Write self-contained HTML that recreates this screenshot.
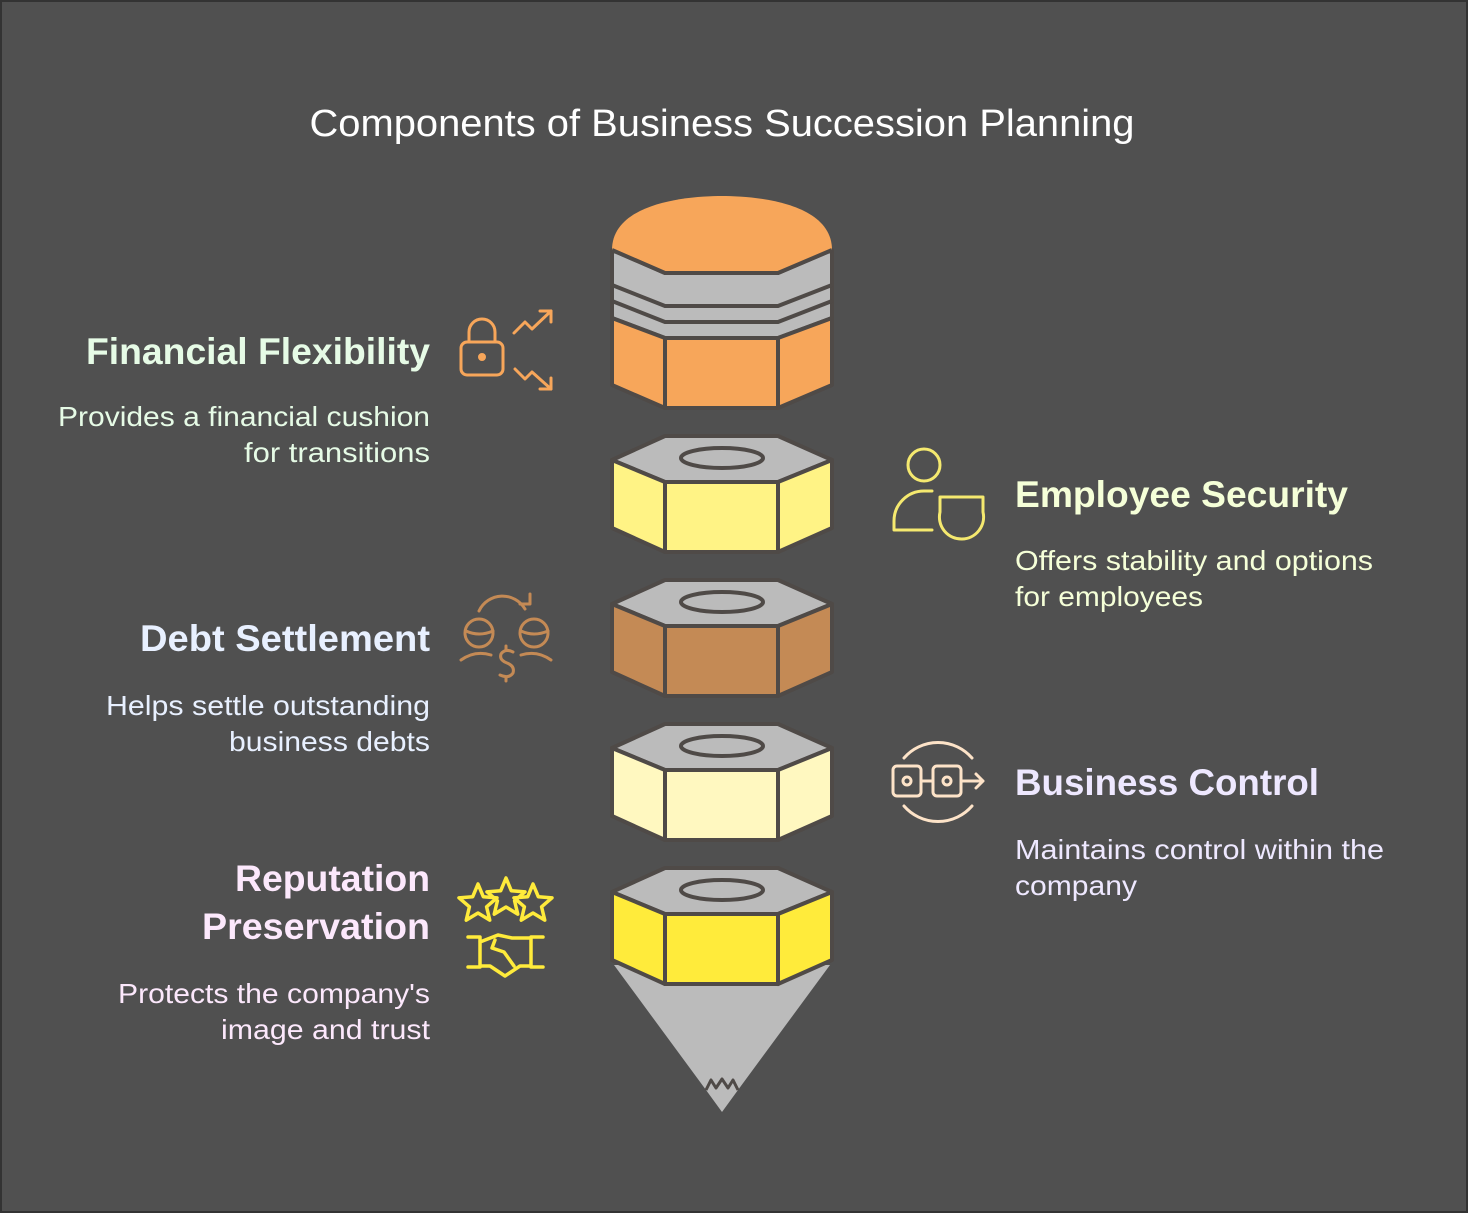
<!DOCTYPE html>
<html><head><meta charset="utf-8"><style>
html,body{margin:0;padding:0;background:#505050}
svg{display:block}
text{font-family:"Liberation Sans",sans-serif}
</style></head><body>
<svg width="1468" height="1213" viewBox="0 0 1468 1213" xmlns="http://www.w3.org/2000/svg">
<rect x="1" y="1" width="1466" height="1211" fill="#505050" stroke="#333" stroke-width="2"/>
<text x="722" y="136" text-anchor="middle" font-size="38" fill="#fff" textLength="825" lengthAdjust="spacingAndGlyphs">Components of Business Succession Planning</text>

<g stroke="#4f4a47" stroke-width="4" stroke-linejoin="round">
<polygon points="612,250 665,273 778,273 832,250 832,318 778,338 665,338 612,318" fill="#bbbbbb"/>
<path d="M612,250 C612,202 690,196 722,196 C754,196 832,202 832,250 L778,273 L665,273 Z" fill="#f7a65a" stroke="none"/>
<polyline points="612,250 665,273 778,273 832,250" fill="none"/>
<polyline points="612,285 665,306 778,306 832,285" fill="none"/>
<polyline points="612,301 665,322 778,322 832,301" fill="none"/>
<polygon points="612,318 665,338 665,408 612,385" fill="#f7a65a"/>
<polygon points="665,338 778,338 778,408 665,408" fill="#f7a65a"/>
<polygon points="778,338 832,318 832,385 778,408" fill="#f7a65a"/>

<polygon points="614,965 830,965 738,1090 722,1112 706,1090" fill="#bbbbbb" stroke="none"/>
<polyline points="706,1090 711,1080 716,1088 722,1079 728,1088 733,1080 738,1090" fill="none" stroke-width="3"/>
</g>

<defs>
<g id="nut" stroke="#4f4a47" stroke-width="4" stroke-linejoin="round">
<polygon points="665,436 778,436 832,460 778,482 665,482 612,460" fill="#bbbbbb"/>
<ellipse cx="722" cy="458" rx="41" ry="10" fill="none"/>
</g>
<polygon id="star" points="0,-20 5.29,-7.28 19.02,-6.18 8.56,2.78 11.76,16.18 0,9 -11.76,16.18 -8.56,2.78 -19.02,-6.18 -5.29,-7.28"/>
</defs>
<g stroke="#4f4a47" stroke-width="4" stroke-linejoin="round">
<g>
<use href="#nut"/>
<polygon points="612,460 665,482 665,552 612,528" fill="#fff385"/>
<polygon points="665,482 778,482 778,552 665,552" fill="#fff385"/>
<polygon points="778,482 832,460 832,528 778,552" fill="#fff385"/>
</g>
<g transform="translate(0,144)">
<use href="#nut"/>
<polygon points="612,460 665,482 665,552 612,528" fill="#c48a55"/>
<polygon points="665,482 778,482 778,552 665,552" fill="#c48a55"/>
<polygon points="778,482 832,460 832,528 778,552" fill="#c48a55"/>
</g>
<g transform="translate(0,288)">
<use href="#nut"/>
<polygon points="612,460 665,482 665,552 612,528" fill="#fff8c0"/>
<polygon points="665,482 778,482 778,552 665,552" fill="#fff8c0"/>
<polygon points="778,482 832,460 832,528 778,552" fill="#fff8c0"/>
</g>
<g transform="translate(0,432)">
<use href="#nut"/>
<polygon points="612,460 665,482 665,552 612,528" fill="#ffeb3b"/>
<polygon points="665,482 778,482 778,552 665,552" fill="#ffeb3b"/>
<polygon points="778,482 832,460 832,528 778,552" fill="#ffeb3b"/>
</g>
</g>

<g fill="none" stroke-width="3" stroke-linecap="round" stroke-linejoin="round">
<g stroke="#f7a65a">
<path d="M469,342 v-10 a13,13 0 0 1 26,0 v10"/>
<rect x="461" y="342" width="42" height="33" rx="6"/>
<circle cx="482" cy="357" r="2.5" fill="#f7a65a"/>
<polyline points="514,333 525,322 532,329 551,311"/>
<polyline points="540,311 551,311 551,322"/>
<polyline points="515,369 525,379 532,372 551,389"/>
<polyline points="540,389 551,389 551,378"/>
</g>
<g stroke="#f5e96f">
<circle cx="924" cy="465" r="16"/>
<path d="M932,491 h-8 a30,30 0 0 0 -30,30 v9 h38"/>
<path d="M940,497 h43 v15 a22,22 0 0 1 -21,27 a22,22 0 0 1 -22,-27 z"/>
</g>
<g stroke="#c48a55">
<path d="M479,611 a26,26 0 0 1 46,-2"/>
<polyline points="530,594 530,604 520,604"/>
<circle cx="479" cy="633" r="14"/>
<path d="M466,631 q13,6 27,0"/>
<circle cx="534" cy="633" r="14"/>
<path d="M521,631 q13,6 27,0"/>
<path d="M461,660 q14,-10 30,-5"/>
<path d="M551,660 q-14,-10 -30,-5"/>
<path d="M513,652 q-8,-4 -12,2 q-2,6 6,9 q8,3 6,10 q-4,6 -13,2"/>
<path d="M506,650 v-4 M506,677 v4"/>
</g>
<g stroke="#fde3c8">
<path d="M904,758 a45,45 0 0 1 68,0"/>
<path d="M904,806 a45,45 0 0 0 68,0"/>
<rect x="893" y="766" width="28" height="30" rx="4"/>
<circle cx="907" cy="781" r="4"/>
<rect x="933" y="766" width="28" height="30" rx="4"/>
<circle cx="947" cy="781" r="4"/>
<path d="M921,781 h12 M961,781 h22 M976,774 l7,7 l-7,7"/>
</g>
<g stroke="#ffeb3b" stroke-width="3.5">
<use href="#star" transform="translate(478,904)"/>
<use href="#star" transform="translate(506,898)"/>
<use href="#star" transform="translate(533,904)"/>
<path d="M468,937 h12 v30 h-12 M480,966 h10 l15,10 l15,-10 l10,0 M543,937 h-12 v30 h12 M480,942 l18,-7 l14,3 l19,0 M495,940 l-3,8 l12,4 l10,14"/>
</g>
</g>

<g font-weight="bold" font-size="37">
<text x="430" y="364" text-anchor="end" fill="#e6fbe6" textLength="344" lengthAdjust="spacingAndGlyphs">Financial Flexibility</text>
<text x="1015" y="507" fill="#f5ffd8" textLength="333" lengthAdjust="spacingAndGlyphs">Employee Security</text>
<text x="430" y="651" text-anchor="end" fill="#e8f0ff" textLength="290" lengthAdjust="spacingAndGlyphs">Debt Settlement</text>
<text x="1015" y="795" fill="#eee8ff" textLength="304" lengthAdjust="spacingAndGlyphs">Business Control</text>
<text x="430" y="891" text-anchor="end" fill="#fce8fc" textLength="195" lengthAdjust="spacingAndGlyphs">Reputation</text>
<text x="430" y="939" text-anchor="end" fill="#fce8fc" textLength="228" lengthAdjust="spacingAndGlyphs">Preservation</text>
</g>
<g font-size="28">
<text x="430" y="426" text-anchor="end" fill="#e6fbe6" textLength="372" lengthAdjust="spacingAndGlyphs">Provides a financial cushion</text>
<text x="430" y="462" text-anchor="end" fill="#e6fbe6" textLength="186" lengthAdjust="spacingAndGlyphs">for transitions</text>
<text x="1015" y="570" fill="#f5ffd8" textLength="358" lengthAdjust="spacingAndGlyphs">Offers stability and options</text>
<text x="1015" y="606" fill="#f5ffd8" textLength="188" lengthAdjust="spacingAndGlyphs">for employees</text>
<text x="430" y="715" text-anchor="end" fill="#e8f0ff" textLength="324" lengthAdjust="spacingAndGlyphs">Helps settle outstanding</text>
<text x="430" y="751" text-anchor="end" fill="#e8f0ff" textLength="201" lengthAdjust="spacingAndGlyphs">business debts</text>
<text x="1015" y="859" fill="#eee8ff" textLength="369" lengthAdjust="spacingAndGlyphs">Maintains control within the</text>
<text x="1015" y="895" fill="#eee8ff" textLength="122" lengthAdjust="spacingAndGlyphs">company</text>
<text x="430" y="1003" text-anchor="end" fill="#fce8fc" textLength="312" lengthAdjust="spacingAndGlyphs">Protects the company's</text>
<text x="430" y="1039" text-anchor="end" fill="#fce8fc" textLength="209" lengthAdjust="spacingAndGlyphs">image and trust</text>
</g>
</svg>
</body></html>
